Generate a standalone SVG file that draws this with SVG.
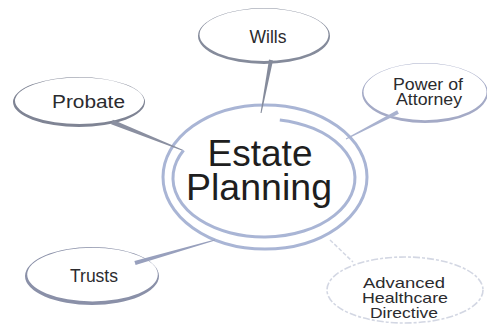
<svg xmlns="http://www.w3.org/2000/svg" width="487" height="325" viewBox="0 0 487 325">
  <style>
    .lbl { font-family: "Liberation Sans", Arial, sans-serif; fill: #2b2b2e; text-anchor: middle; }
    .small { font-size: 17.5px; }
    .poa { font-size: 16px; }
    .ahd { font-size: 15px; }
    .big { font-size: 36px; fill: #1e1e20; }
    .ring { fill-rule: evenodd; }
    .hub { fill: none; stroke: #a9b5d5; stroke-width: 3; }
    .conn { stroke: none; }
  </style>
  <rect width="487" height="325" fill="#ffffff"/>

  <!-- central hub: double ring -->
  <g id="estate-planning">
    <ellipse class="hub" cx="265" cy="177" rx="102" ry="72"/>
    <path class="hub" d="M279.8,119.9 A91,59 0 1,1 183.6,150.3" stroke-width="2.5"/>
    <text class="lbl big" x="260" y="166" textLength="105" lengthAdjust="spacingAndGlyphs">Estate</text>
    <text class="lbl big" x="259" y="200" textLength="146" lengthAdjust="spacingAndGlyphs">Planning</text>
  </g>

  <!-- satellite nodes: brushed rings, heavier along the lower edge -->
  <g id="wills">
    <path class="ring" fill="#858b9b" d="M198,36 a66,28 0 1,0 132,0 a66,28 0 1,0 -132,0Z M199.5,34.8 a64.5,26.3 0 1,0 129,0 a64.5,26.3 0 1,0 -129,0Z"/>
    <text class="lbl small" x="268" y="43">Wills</text>
  </g>

  <g id="probate">
    <path class="ring" fill="#7f8494" d="M13,102 a66,25 0 1,0 132,0 a66,25 0 1,0 -132,0Z M15,100.8 a64.5,23.2 0 1,0 129,0 a64.5,23.2 0 1,0 -129,0Z"/>
    <text class="lbl small" x="88.5" y="108" font-size="19" textLength="73" lengthAdjust="spacingAndGlyphs">Probate</text>
  </g>

  <g id="power-of-attorney">
    <path class="ring" fill="#a4aac6" d="M362,93 a63,30 0 1,0 126,0 a63,30 0 1,0 -126,0Z M363.5,91.8 a61.5,28.4 0 1,0 123,0 a61.5,28.4 0 1,0 -123,0Z"/>
    <text class="lbl poa" x="428" y="90" textLength="70" lengthAdjust="spacingAndGlyphs">Power of</text>
    <text class="lbl poa" x="429" y="104.5" textLength="66" lengthAdjust="spacingAndGlyphs">Attorney</text>
  </g>

  <g id="trusts">
    <path class="ring" fill="#8a90a8" d="M25,276 a67,29 0 1,0 134,0 a67,29 0 1,0 -134,0Z M27.2,274.6 a65.3,26.8 0 1,0 130.6,0 a65.3,26.8 0 1,0 -130.6,0Z"/>
    <text class="lbl small" x="94" y="282">Trusts</text>
  </g>

  <g id="advanced-healthcare-directive">
    <ellipse cx="405" cy="290" rx="78" ry="33" fill="none" stroke="#d3d7e3" stroke-width="1.6" stroke-dasharray="7 2 3 2"/>
    <text class="lbl ahd" x="404" y="288" textLength="82" lengthAdjust="spacingAndGlyphs">Advanced</text>
    <text class="lbl ahd" x="405" y="303" textLength="86" lengthAdjust="spacingAndGlyphs">Healthcare</text>
    <text class="lbl ahd" x="404" y="318" textLength="68" lengthAdjust="spacingAndGlyphs">Directive</text>
  </g>

  <!-- tapered brush connectors to the hub -->
  <g id="connectors">
    <polygon class="conn" fill="#858b9b" points="273,60.4 261.5,113.1 260.5,112.9 269,59.6"/>
    <polygon class="conn" fill="#8a8fa0" points="112.9,119.7 182.2,149.5 181.8,150.5 111.1,124.3"/>
    <polygon class="conn" fill="#a9b2cf" points="345.8,138.6 397.1,110.2 398.9,113.8 346.2,139.4"/>
    <polygon class="conn" fill="#98a0bd" points="134.4,261.1 214.9,239.5 215.1,240.5 135.6,264.9"/>
    <line x1="330" y1="240" x2="353" y2="262" stroke="#d3d7e3" stroke-width="1.5" stroke-dasharray="4 2"/>
  </g>
</svg>
